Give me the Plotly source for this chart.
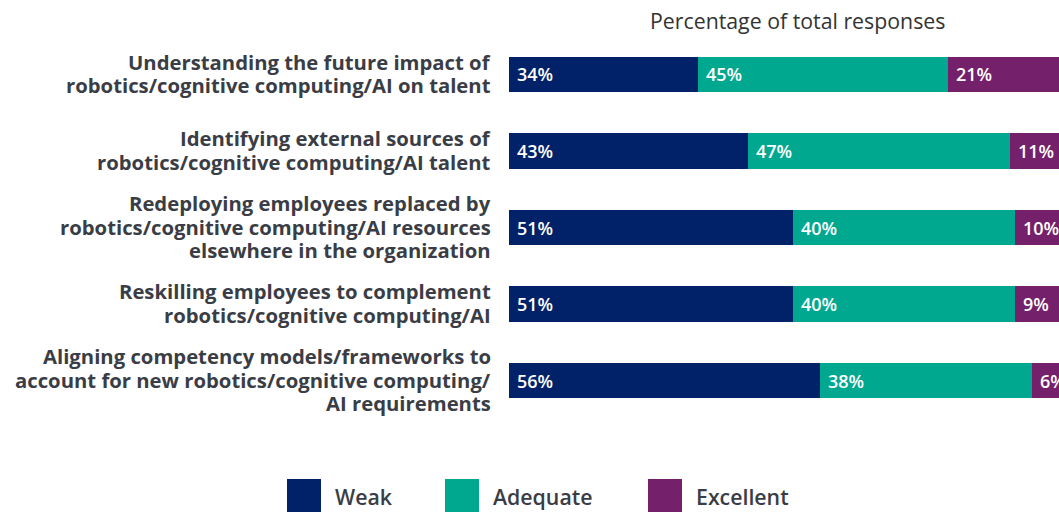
import plotly.graph_objects as go

# categories, top to bottom
categories = [
    "Understanding the future impact of<br>robotics/cognitive computing/AI on talent",
    "Identifying external sources of<br>robotics/cognitive computing/AI talent",
    "Redeploying employees replaced by<br>robotics/cognitive computing/AI resources<br>elsewhere in the organization",
    "Reskilling employees to complement<br>robotics/cognitive computing/AI",
    "Aligning competency models/frameworks to<br>account for new robotics/cognitive computing/<br>AI requirements",
]
weak = [34, 43, 51, 51, 56]
adequate = [45, 47, 40, 40, 38]
excellent = [21, 11, 10, 9, 6]

series_names = ["Weak", "Adequate", "Excellent"]
colors = ["#012169", "#00A88F", "#75206A"]
title_text = "Percentage of total responses"

W, H = 1059, 512
ML, MT, MB = 509, 36, 93
pw = W - ML
ph = H - MT - MB


def px_x(x):  # page pixel -> paper x
    return (x - ML) / pw


def px_y(y):  # page pixel -> paper y
    return (H - MB - y) / ph


fig = go.Figure()
bases = [0] * len(categories)
annotations = []
for name, vals, col in zip(series_names, [weak, adequate, excellent], colors):
    fig.add_trace(go.Bar(
        y=categories, x=vals, base=bases, name=name, orientation="h",
        marker=dict(color=col, line=dict(width=0)), width=0.46,
        showlegend=False, hoverinfo="x+name",
    ))
    # value labels at the left of each segment
    for c, b, v in zip(categories, bases, vals):
        annotations.append(dict(
            x=b, y=c, xref="x", yref="y", text=f"{v}%", showarrow=False,
            xanchor="left", xshift=6,
            font=dict(family="Open Sans", size=18, color="white", weight=600),
        ))
    bases = [b + v for b, v in zip(bases, vals)]

# category labels, one annotation per line for tighter line spacing
for c in categories:
    lines = c.split("<br>")
    n = len(lines)
    for j, ln in enumerate(lines):
        annotations.append(dict(
            x=0, y=c, xref="paper", yref="y", text=ln, showarrow=False,
            xanchor="right", yanchor="middle", xshift=-16,
            yshift=1 - (j - (n - 1) / 2) * 23.5,
            font=dict(family="Open Sans", size=20.3, color="#3a3d45", weight=700),
        ))

# title above the bars
annotations.append(dict(
    x=px_x(797), y=px_y(20), xref="paper", yref="paper", text=title_text,
    showarrow=False, yanchor="middle",
    font=dict(family="Open Sans", size=21.3, color="#333333"),
))

# legend drawn by hand with big swatches
legend_x = [287, 445, 648]
for name, col, lx in zip(series_names, colors, legend_x):
    fig.add_shape(type="rect", xref="paper", yref="paper",
                  x0=px_x(lx), x1=px_x(lx + 34), y0=px_y(512), y1=px_y(479),
                  fillcolor=col, line=dict(width=0))
    annotations.append(dict(
        x=px_x(lx + 46), y=px_y(496), xref="paper", yref="paper",
        text=name, showarrow=False, xanchor="left", yanchor="middle",
        font=dict(family="Open Sans", size=21.3, color="#3a3d45", weight=600),
    ))

fig.update_layout(
    width=W, height=H,
    margin=dict(l=ML, r=0, t=MT, b=MB),
    plot_bgcolor="white", paper_bgcolor="white",
    barmode="overlay", bargap=0,
    xaxis=dict(range=[0, 98.9], visible=False, fixedrange=True),
    yaxis=dict(range=[4.5, -0.5], showgrid=False, zeroline=False, showline=False,
               showticklabels=False, ticks="", fixedrange=True),
    annotations=annotations,
)

fig.write_html("out.html", config={"displayModeBar": False},
               post_script="document.body.style.margin='0px';"
                           "document.body.style.overflow='hidden';")
